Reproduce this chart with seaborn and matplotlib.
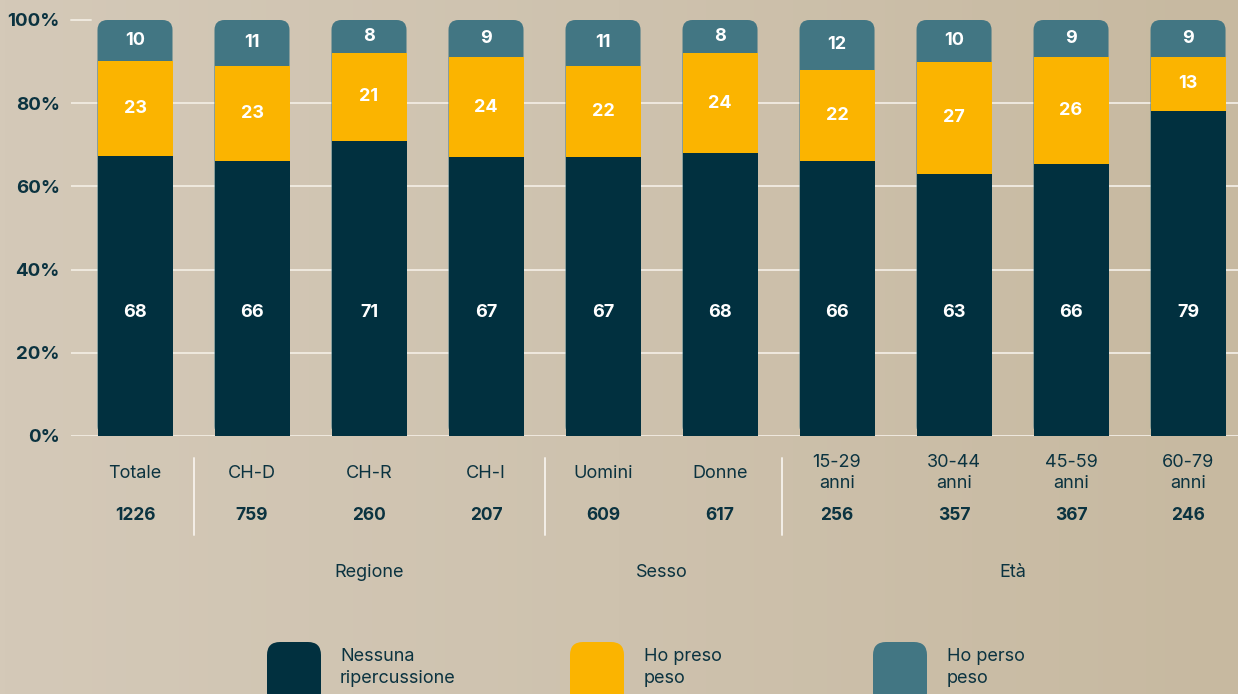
import numpy as np
import pandas as pd
import matplotlib
matplotlib.use("Agg")
import matplotlib.pyplot as plt
import matplotlib.transforms as mtransforms
from matplotlib.patches import FancyBboxPatch
from matplotlib.colors import LinearSegmentedColormap
import seaborn as sns

sns.set_style("white")
plt.rcParams['font.family'] = ['Inter', 'DejaVu Sans']

# dati
gruppi = ["Totale", "CH-D", "CH-R", "CH-I", "Uomini", "Donne",
          "15-29\nanni", "30-44\nanni", "45-59\nanni", "60-79\nanni"]
n_casi = [1226, 759, 260, 207, 609, 617, 256, 357, 367, 246]
nessuna = [68, 66, 71, 67, 67, 68, 66, 63, 66, 79]
preso = [23, 23, 21, 24, 22, 24, 22, 27, 26, 13]
perso = [10, 11, 8, 9, 11, 8, 12, 10, 9, 9]
sezioni = [("Regione", 1, 3), ("Sesso", 4, 5), ("Età", 6, 9)]
separatori = [0.5, 3.5, 5.53]
serie = ["Nessuna\nripercussione", "Ho preso\npeso", "Ho perso\npeso"]
colori = ["#01303f", "#fbb400", "#427683"]

testo = "#0b3340"
griglia = "#efe9df"

# quote cumulate (normalizzate a 100)
a = np.array(nessuna, float)
b = np.array(preso, float)
c = np.array(perso, float)
tot = a + b + c
cum1 = a / tot * 100
cum2 = (a + b) / tot * 100
cum3 = tot / tot * 100

df = pd.DataFrame({
    "gruppo": gruppi * 3,
    "quota": np.concatenate([cum3, cum2, cum1]),
    "serie": [serie[2]] * 10 + [serie[1]] * 10 + [serie[0]] * 10,
})

fig = plt.figure(figsize=(12.38, 6.94), dpi=100)

# sfondo sfumato
bg = fig.add_axes([0, 0, 1, 1], zorder=-10)
cmap_bg = LinearSegmentedColormap.from_list("bg", ["#d4c9b8", "#cec2ae", "#c7b9a0"])
bg.imshow(np.linspace(0, 1, 256).reshape(1, -1), aspect="auto", cmap=cmap_bg,
          extent=[0, 1, 0, 1])
bg.axis("off")

ax = fig.add_axes([71 / 1238, 258 / 694, 1167 / 1238, 416 / 694])
ax.set_facecolor("none")

sns.barplot(data=df, x="gruppo", y="quota", hue="serie",
            hue_order=[serie[2], serie[1], serie[0]],
            palette={serie[0]: colori[0], serie[1]: colori[1], serie[2]: colori[2]},
            dodge=False, width=0.641, saturation=1, legend=False,
            errorbar=None, ax=ax, zorder=2, linewidth=0, edgecolor="none")

ax.set_xlim(-0.547, 9.427)
ax.set_ylim(0, 100)

# parte alta arrotondata
p0 = ax.transData.transform((0, 0))
p1 = ax.transData.transform((1, 1))
asp = (p1[0] - p0[0]) / (p1[1] - p0[1])
for p in list(ax.patches):
    if p.get_height() > 99.9:
        x0, w, h = p.get_x(), p.get_width(), p.get_height()
        fc = p.get_facecolor()
        p.remove()
        ax.add_patch(FancyBboxPatch((x0, 0), w, h,
                                    boxstyle="round,pad=0,rounding_size=0.085",
                                    mutation_aspect=asp, fc=fc, ec="none", lw=0,
                                    zorder=1.5))

# griglia
for y in [0, 20, 40, 60, 80]:
    ax.axhline(y, color=griglia, lw=1.4, zorder=1)
ax.axhline(100, xmin=0, xmax=20 / 1167, color=griglia, lw=1.4, zorder=1, clip_on=False)

# etichette valori
for i in range(len(gruppi)):
    kw = dict(ha="center", va="center", color="white", fontsize=13, fontweight="bold", zorder=5)
    ax.text(i, 29.8, str(nessuna[i]), **kw)
    ax.text(i, (cum1[i] + cum2[i]) / 2, str(preso[i]), **kw)
    ax.text(i, (cum2[i] + 100) / 2, str(perso[i]), **kw)

ax.set_yticks([0, 20, 40, 60, 80, 100])
ax.set_yticklabels(["0%", "20%", "40%", "60%", "80%", "100%"],
                   fontsize=13.5, fontweight="bold", color=testo)
ax.tick_params(axis="y", length=0, pad=8)
ax.tick_params(axis="x", length=0, labelbottom=False)
ax.set_xlabel("")
ax.set_ylabel("")
sns.despine(ax=ax, left=True, bottom=True)

# etichette categorie
trans = mtransforms.blended_transform_factory(ax.transData, ax.transAxes)
for i, g in enumerate(gruppi):
    ax.text(i, -0.089, g, transform=trans, ha="center", va="center",
            fontsize=13, color=testo, linespacing=1.3)
    ax.text(i, -0.19, str(n_casi[i]), transform=trans, ha="center", va="center",
            fontsize=12.5, fontweight="bold", color=testo)
for nome, i0, i1 in sezioni:
    ax.text((i0 + i1) / 2, -0.329, nome, transform=trans, ha="center", va="center",
            fontsize=13, color=testo)
for s in separatori:
    ax.plot([s, s], [-0.053, -0.238], transform=trans, color="#f4efe8", lw=1.4,
            clip_on=False)

# legenda
inch = fig.dpi_scale_trans
for k, (x_box, x_txt) in enumerate([(2.67, 3.40), (5.70, 6.44), (8.73, 9.47)]):
    fig.patches.append(FancyBboxPatch((x_box, -0.12), 0.54, 0.64,
                                      boxstyle="round,pad=0,rounding_size=0.13",
                                      fc=colori[k], ec="none", transform=inch))
    fig.text(x_txt, 0.265, serie[k], transform=inch, ha="left", va="center",
             fontsize=13, color=testo, linespacing=1.35)

fig.savefig("out.png", dpi=100)
